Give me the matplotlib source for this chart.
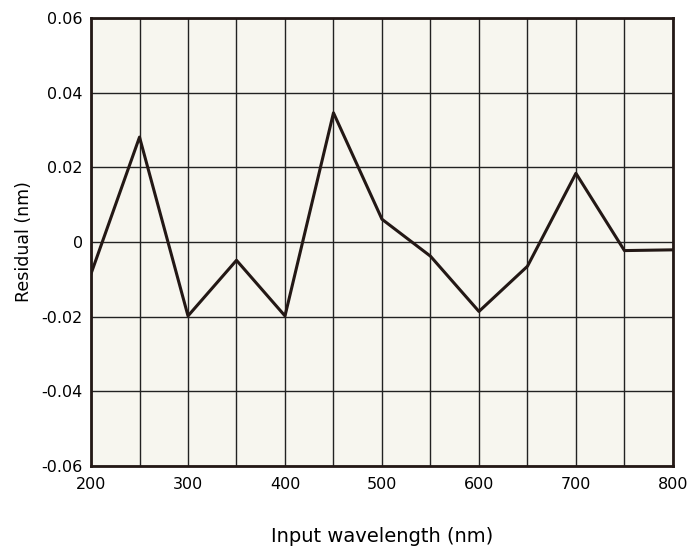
import matplotlib
matplotlib.use("Agg")
import matplotlib.pyplot as plt
from matplotlib.ticker import MultipleLocator, FuncFormatter

# residual of the wavelength fit
wavelength = [200, 250, 300, 350, 400, 450, 500, 550, 600, 650, 700, 750, 800]
residual = [-0.0085, 0.0281, -0.0198, -0.0049, -0.0198, 0.0346, 0.0061,
            -0.0038, -0.0186, -0.0065, 0.0184, -0.0023, -0.0021]

x_ticks = [200, 300, 400, 500, 600, 700, 800]
y_ticks = [-0.06, -0.04, -0.02, 0, 0.02, 0.04, 0.06]

ink = "#231815"

fig = plt.figure(figsize=(6.87, 5.49), dpi=100)
ax = fig.add_axes([0.1325, 0.1512, 0.847, 0.8160])
ax.set_facecolor("#f7f6ef")

ax.plot(wavelength, residual, color=ink, lw=2.2, zorder=3)

ax.set_xlim(200, 800)
ax.set_ylim(-0.06, 0.06)
ax.set_xticks(x_ticks)
ax.set_yticks(y_ticks)
ax.xaxis.set_minor_locator(MultipleLocator(50))


def fmt(v, pos):
    if abs(v) < 1e-9:
        return "0"
    return ("%.2f" % v).replace("\u2212", "-")


ax.yaxis.set_major_formatter(FuncFormatter(fmt))

ax.grid(True, which="both", color="#222222", lw=1.0, zorder=1)
ax.tick_params(which="both", length=0, labelsize=11.5, colors="black", pad=6)
ax.tick_params(axis="x", pad=8)

for s in ax.spines.values():
    s.set_color(ink)
    s.set_linewidth(2)
    s.set_zorder(4)

ax.set_xlabel("Input wavelength (nm)", fontsize=14, labelpad=25)
ax.set_ylabel("Residual (nm)", fontsize=12.5, labelpad=6)

fig.savefig("out.png", dpi=100)
